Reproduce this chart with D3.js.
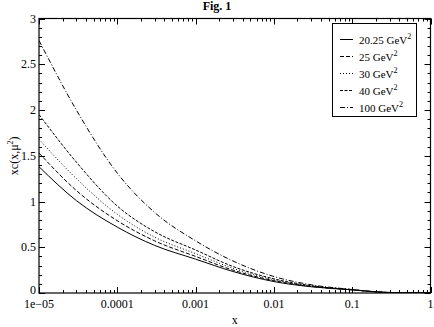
<!DOCTYPE html>
<html>
<head>
<meta charset="utf-8">
<script src="https://cdn.jsdelivr.net/npm/d3@7"></script>
<style>
  body { margin: 0; background: #fff; }
  svg { display: block; }
  text { font-family: "Liberation Serif", "Times New Roman", "DejaVu Serif", serif; fill: #000; }
</style>
</head>
<body>
<svg id="chart" width="434" height="327"></svg>
<script>
// x grid the curves were read at
const xs = [1e-5, 3e-5, 1e-4, 3e-4, 1e-3, 3e-3, 1e-2, 3e-2, 0.1, 0.2, 0.3, 0.5, 1];

// xc(x, mu^2) for each scale
const q2025 = [1.38, 1.01, 0.72, 0.52, 0.37, 0.235, 0.125, 0.068, 0.034, 0.014, 0.006, 0.0015, 0];
const q25   = [1.53, 1.12, 0.79, 0.57, 0.40, 0.25, 0.135, 0.072, 0.035, 0.013, 0.005, 0.001, 0];
const q30   = [1.68, 1.25, 0.86, 0.61, 0.43, 0.27, 0.145, 0.076, 0.036, 0.012, 0.005, 0.001, 0];
const q40   = [1.95, 1.43, 0.95, 0.67, 0.47, 0.29, 0.155, 0.080, 0.036, 0.012, 0.004, 0.0008, 0];
const q100  = [2.76, 2.00, 1.31, 0.88, 0.57, 0.35, 0.18, 0.090, 0.038, 0.011, 0.004, 0.0005, 0];

const seriesNames = ['20.25 GeV', '25 GeV', '30 GeV', '40 GeV', '100 GeV'];
const seriesValues = [q2025, q25, q30, q40, q100];
const dashes = ['none', '4,2', '1,2', '3,1.5', '5,2,1,2'];

const xTickValues = [1e-5, 1e-4, 1e-3, 1e-2, 1e-1, 1];
const xTickLabels = ['1e\u221205', '0.0001', '0.001', '0.01', '0.1', '1'];
const yTickValues = [0, 0.5, 1, 1.5, 2, 2.5, 3];
const yTickLabels = ['0', '0.5', '1', '1.5', '2', '2.5', '3'];

const plotLeft = 39, plotRight = 430.5, plotTop = 18.5, plotBottom = 293;

const svg = d3.select('#chart');

const x = d3.scaleLog().domain([1e-5, 1]).range([plotLeft, plotRight]);
const y = d3.scaleLinear().domain([0, 3]).range([plotBottom, plotTop]);

// minor ticks
const xMinor = [];
for (let e = -5; e < 0; e++) {
  for (let k = 2; k <= 9; k++) xMinor.push(k * Math.pow(10, e));
}
const yMinor = d3.range(0, 3.0001, 0.1).filter(v => Math.abs(v * 2 - Math.round(v * 2)) > 1e-6);

const ticks = svg.append('g').attr('stroke', '#000').attr('stroke-width', 1);

// bottom + top
xTickValues.forEach(v => {
  const px = Math.round(x(v)) + 0.5;
  ticks.append('line').attr('x1', px).attr('x2', px).attr('y1', plotBottom).attr('y2', plotBottom - 6);
  ticks.append('line').attr('x1', px).attr('x2', px).attr('y1', plotTop).attr('y2', plotTop + 6);
});
xMinor.forEach(v => {
  const px = Math.round(x(v)) + 0.5;
  ticks.append('line').attr('x1', px).attr('x2', px).attr('y1', plotBottom).attr('y2', plotBottom - 3);
  ticks.append('line').attr('x1', px).attr('x2', px).attr('y1', plotTop).attr('y2', plotTop + 3);
});
// left + right
yTickValues.forEach(v => {
  const py = Math.round(y(v)) + 0.5;
  ticks.append('line').attr('x1', plotLeft).attr('x2', plotLeft + 6).attr('y1', py).attr('y2', py);
  ticks.append('line').attr('x1', plotRight).attr('x2', plotRight - 6).attr('y1', py).attr('y2', py);
});
yMinor.forEach(v => {
  const py = Math.round(y(v)) + 0.5;
  ticks.append('line').attr('x1', plotLeft).attr('x2', plotLeft + 3).attr('y1', py).attr('y2', py);
  ticks.append('line').attr('x1', plotRight).attr('x2', plotRight - 3).attr('y1', py).attr('y2', py);
});

// frame
svg.append('rect')
  .attr('x', plotLeft).attr('y', plotTop)
  .attr('width', plotRight - plotLeft).attr('height', plotBottom - plotTop)
  .attr('fill', 'none').attr('stroke', '#000').attr('stroke-width', 1.2);

// tick labels
svg.append('g').selectAll('text')
  .data(xTickValues)
  .enter()
  .append('text')
    .attr('x', d => x(d))
    .attr('y', plotBottom + 14.5)
    .attr('text-anchor', 'middle')
    .attr('font-size', 12)
    .text((d, i) => xTickLabels[i]);

svg.append('g').selectAll('text')
  .data(yTickValues)
  .enter()
  .append('text')
    .attr('x', plotLeft - 3)
    .attr('y', d => y(d) + (d === 0 ? 0.5 : 4))
    .attr('text-anchor', 'end')
    .attr('font-size', 12)
    .text((d, i) => yTickLabels[i]);

// titles
svg.append('text')
  .attr('x', 217).attr('y', 10)
  .attr('text-anchor', 'middle')
  .attr('font-size', 12)
  .attr('font-weight', 'bold')
  .text('Fig. 1');

svg.append('text')
  .attr('x', (plotLeft + plotRight) / 2).attr('y', 324)
  .attr('text-anchor', 'middle')
  .attr('font-size', 12)
  .text('x');

const yLab = svg.append('text')
  .attr('transform', `translate(18,${(plotTop + plotBottom) / 2}) rotate(-90)`)
  .attr('text-anchor', 'middle')
  .attr('font-size', 12);
yLab.append('tspan').text('xc(x,\u03bc');
yLab.append('tspan').attr('dy', -5).attr('font-size', 8).text('2');
yLab.append('tspan').attr('dy', 5).text(')');

// curves
svg.append('clipPath').attr('id', 'plot-clip')
  .append('rect').attr('x', plotLeft).attr('y', plotTop).attr('width', plotRight - plotLeft).attr('height', plotBottom - plotTop);

const line = d3.line()
  .x(d => x(d[0]))
  .y(d => y(d[1]))
  .curve(d3.curveMonotoneX);

svg.append('g')
  .attr('clip-path', 'url(#plot-clip)')
  .selectAll('path')
  .data(seriesValues)
  .enter()
  .append('path')
    .attr('d', vals => line(xs.map((v, i) => [v, vals[i]])))
    .attr('fill', 'none')
    .attr('stroke', '#000')
    .attr('stroke-width', 1)
    .attr('stroke-dasharray', (d, i) => dashes[i]);

// legend
const legend = svg.append('g');
legend.append('rect')
  .attr('x', 332.5).attr('y', 23.5)
  .attr('width', 84).attr('height', 93)
  .attr('fill', '#fff').attr('stroke', '#000').attr('stroke-width', 1);

seriesNames.forEach((name, i) => {
  const ly = 39.5 + i * 17;
  legend.append('line')
    .attr('x1', 340).attr('x2', 353)
    .attr('y1', ly).attr('y2', ly)
    .attr('stroke', '#000').attr('stroke-width', 1)
    .attr('stroke-dasharray', dashes[i]);
  const t = legend.append('text')
    .attr('x', 359).attr('y', ly + 4)
    .attr('font-size', 11);
  t.append('tspan').text(name);
  t.append('tspan').attr('dy', -5).attr('font-size', 8).text('2');
});
</script>
</body>
</html>
